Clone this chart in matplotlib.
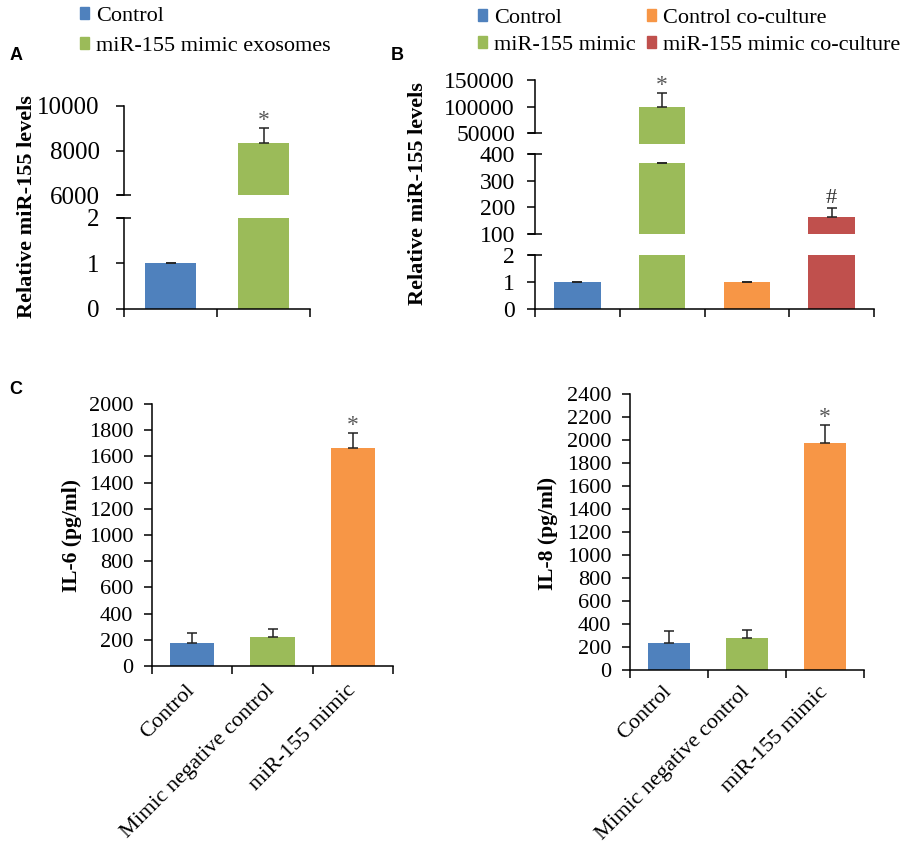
import numpy as np
import matplotlib
matplotlib.use('Agg')
import matplotlib.pyplot as plt
from matplotlib.patches import Patch
import matplotlib.transforms as mtrans

plt.rcParams['font.family'] = ['Liberation Serif', 'DejaVu Serif']

# colours (excel style)
BLUE, GREEN, ORANGE, RED = '#4F81BD', '#9BBB59', '#F79646', '#C0504D'
STAR = '#595959'

# ---- panel A data ----
a_labels = ['Control', 'miR-155 mimic exosomes']
a_vals = [1.0, 8330]
a_errs = [0.015, 660]

# ---- panel B data ----
b_labels = ['Control', 'miR-155 mimic', 'Control co-culture', 'miR-155 mimic co-culture']
b_vals = [1.0, 100000, 1.0, 165]
b_errs = [0.015, 26000, 0.015, 31]
b_mid_vals = [1.0, 365, 1.0, 165]   # what the middle (100-400) segment shows
b_mid_errs = [0, 0, 0, 31]

# ---- panel C data ----
c_cats = ['Control', 'Mimic negative control', 'miR-155 mimic']
il6_vals = [178, 224, 1666]
il6_errs = [71, 61, 109]
il8_vals = [238, 276, 1972]
il8_errs = [99, 72, 159]

W, H = 924, 849
fig = plt.figure(figsize=(W / 100, H / 100), dpi=100)


def px_axes(x0, x1, ytop, ybot):
    # axes from pixel coords of the reference
    return fig.add_axes([x0 / W, 1 - ybot / H, (x1 - x0) / W, (ybot - ytop) / H])


def style(ax, bottom=False, fs=17, pad=10):
    for s in ['top', 'right']:
        ax.spines[s].set_visible(False)
    ax.spines['left'].set_linewidth(1.1)
    ax.spines['bottom'].set_linewidth(1.1)
    ax.tick_params(axis='y', direction='out', length=5.5, width=1.1, labelsize=fs, pad=pad)
    if not bottom:
        ax.spines['bottom'].set_visible(False)
        ax.set_xticks([])
    ax.patch.set_alpha(0)


def cap(ax, y):
    # little crossing mark at the end of a broken segment
    tr = mtrans.blended_transform_factory(ax.transAxes, ax.transData)
    ax.plot([0], [y], marker='_', ms=10, mew=1.1, color='k', transform=tr, clip_on=False)


def draw_bars(ax, vals, errs, colors, n):
    x = np.arange(n)
    ax.bar(x, vals, width=0.55, color=colors, edgecolor='none')
    ax.errorbar(x, vals, yerr=[np.zeros(n), errs], fmt='none', ecolor='#222222',
                elinewidth=1.1, capsize=3.5, capthick=1.1)
    ax.set_xlim(-0.5, n - 0.5)


def xbounds(ax, n):
    ax.set_xticks(np.arange(n + 1) - 0.5)
    ax.set_xticklabels([])
    ax.tick_params(axis='x', direction='out', length=6, width=1.1)


# ================= Panel A =================
a_cols = [BLUE, GREEN]
axA_lo = px_axes(124, 310, 218, 309)
draw_bars(axA_lo, a_vals, a_errs, a_cols, 2)
axA_lo.set_ylim(0, 2)
axA_lo.set_yticks([0, 1, 2])
style(axA_lo, bottom=True, fs=18, pad=12)
xbounds(axA_lo, 2)
cap(axA_lo, 2)

axA_hi = px_axes(124, 310, 106, 195)
draw_bars(axA_hi, a_vals, a_errs, a_cols, 2)
axA_hi.set_ylim(6000, 10000)
axA_hi.set_yticks([6000, 8000, 10000])
style(axA_hi, fs=18, pad=12)
cap(axA_hi, 6000)
axA_hi.annotate('*', xy=(1, a_vals[1] + a_errs[1]), xytext=(0, -2), textcoords='offset points',
                ha='center', va='bottom', fontsize=17, color=STAR, annotation_clip=False)

fig.text(27 / W, 1 - 207 / H, 'Relative miR-155 levels', rotation=90, ha='center', va='center',
         fontsize=16, fontweight='bold')
fig.legend([Patch(color=c) for c in a_cols], a_labels, loc='upper left',
           bbox_to_anchor=(80 / W, 1 - 7 / H), frameon=False, fontsize=16,
           handlelength=0.42, handleheight=0.42, handletextpad=0.3, labelspacing=0.5,
           borderpad=0, borderaxespad=0)
fig.text(16 / W, 1 - 55 / H, 'A', family='Liberation Sans', fontweight='bold', fontsize=13,
         ha='center', va='center')

# ================= Panel B =================
b_cols = [BLUE, GREEN, ORANGE, RED]
axB_lo = px_axes(535, 874, 255, 309)
draw_bars(axB_lo, b_vals, b_errs, b_cols, 4)
axB_lo.set_ylim(0, 2)
axB_lo.set_yticks([0, 1, 2])
style(axB_lo, bottom=True, pad=9)
xbounds(axB_lo, 4)
cap(axB_lo, 2)

axB_mid = px_axes(535, 874, 154, 234)
draw_bars(axB_mid, b_mid_vals, b_mid_errs, b_cols, 4)
axB_mid.set_ylim(100, 400)
axB_mid.set_yticks([100, 200, 300, 400])
style(axB_mid, pad=9)
cap(axB_mid, 100)
cap(axB_mid, 400)
axB_mid.annotate('#', xy=(3, b_mid_vals[3] + b_mid_errs[3]), xytext=(0, 0), textcoords='offset points',
                 ha='center', va='bottom', fontsize=16, color='#333333', annotation_clip=False)

axB_hi = px_axes(535, 874, 80, 144)
draw_bars(axB_hi, b_vals, b_errs, b_cols, 4)
axB_hi.set_ylim(30000, 150000)
axB_hi.set_yticks([50000, 100000, 150000])
axB_hi.spines['left'].set_bounds(50000, 150000)
style(axB_hi, pad=9)
cap(axB_hi, 50000)
axB_hi.annotate('*', xy=(1, b_vals[1] + b_errs[1]), xytext=(0, -2), textcoords='offset points',
                ha='center', va='bottom', fontsize=17, color=STAR, annotation_clip=False)

fig.text(418 / W, 1 - 194 / H, 'Relative miR-155 levels', rotation=90, ha='center', va='center',
         fontsize=16, fontweight='bold')
fig.legend([Patch(color=c) for c in b_cols], b_labels, loc='upper left', ncol=2,
           bbox_to_anchor=(478 / W, 1 - 9 / H), frameon=False, fontsize=16,
           handlelength=0.42, handleheight=0.42, handletextpad=0.3, labelspacing=0.35,
           columnspacing=0.5, borderpad=0, borderaxespad=0)
fig.text(397 / W, 1 - 55 / H, 'B', family='Liberation Sans', fontweight='bold', fontsize=13,
         ha='center', va='center')

# ================= Panel C =================
c_cols = [BLUE, GREEN, ORANGE]
shift = mtrans.ScaledTranslation(-7 / 100, 0, fig.dpi_scale_trans)


def cytokine(ax, vals, errs, top, ylabel_txt, lab_xy, xpad):
    draw_bars(ax, vals, errs, c_cols, 3)
    ax.set_ylim(0, top)
    ax.set_yticks(np.arange(0, top + 1, 200))
    style(ax, bottom=True, fs=16, pad=8)
    xbounds(ax, 3)
    ax.set_xticks(np.arange(3), minor=True)
    ax.set_xticklabels(c_cats, minor=True, rotation=45, ha='right', va='top',
                       rotation_mode='anchor', fontsize=16)
    ax.tick_params(axis='x', which='minor', length=0, pad=xpad)
    for lbl in ax.get_xticklabels(minor=True):
        lbl.set_transform(lbl.get_transform() + shift)
    ax.annotate('*', xy=(2, vals[2] + errs[2]), xytext=(0, -2), textcoords='offset points',
                ha='center', va='bottom', fontsize=17, color=STAR, annotation_clip=False)
    fig.text(lab_xy[0] / W, 1 - lab_xy[1] / H, ylabel_txt, rotation=90, ha='center', va='center',
             fontsize=15.5, fontweight='bold')


axC1 = px_axes(152, 393, 404, 666)
cytokine(axC1, il6_vals, il6_errs, 2000, 'IL-6 (pg/ml)', (72, 535), 11)
axC2 = px_axes(630, 864, 394, 670)
cytokine(axC2, il8_vals, il8_errs, 2400, 'IL-8 (pg/ml)', (548, 533), 9)
fig.text(16 / W, 1 - 390 / H, 'C', family='Liberation Sans', fontweight='bold', fontsize=13,
         ha='center', va='center')

fig.savefig('out.png', dpi=100)
